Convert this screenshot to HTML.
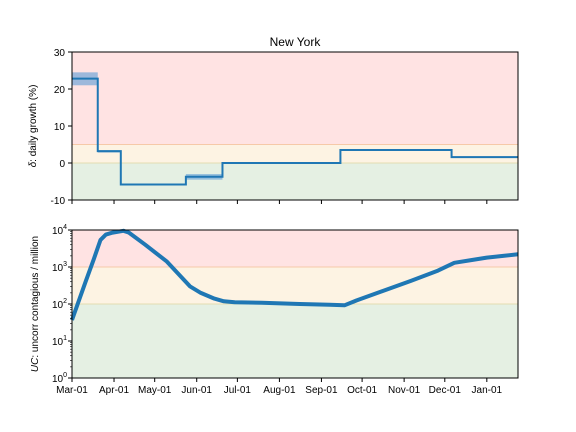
<!DOCTYPE html>
<html><head><meta charset="utf-8"><style>
body{margin:0;background:#fff}
svg{display:block;font-family:"Liberation Sans",sans-serif}
</style></head><body>
<svg id="chart" width="576" height="432" viewBox="0 0 576 432">
<text x="295" y="46" font-size="12" text-anchor="middle">New York</text>
<g id="topPanel"></g>
<g id="botPanel"></g>
<text transform="translate(36,126) rotate(-90)" font-size="10" text-anchor="middle"><tspan font-style="italic">δ</tspan>: daily growth (%)</text>
<text transform="translate(38,304) rotate(-90)" font-size="10" text-anchor="middle"><tspan font-style="italic">UC</tspan>: uncorr contagious / million</text>
</svg>
<script>
// data (x in days since Mar-01)
const stepStarts=[0,19,36,84,111,198,280];
const stepEnds=[19,36,84,111,198,280,329];
const stepVals=[22.8,3.2,-5.8,-3.7,0,3.5,1.6];
const stepLo=[21,2.8,-5.8,-4.5,-0.2,3.3,1.4];
const stepHi=[24.5,3.4,-5.8,-3,0.2,3.7,1.8];
const ucDays=[0,10,16,21,25,30,38,42,54,70,87,95,105,112,120,140,168,190,201,210,230,250,270,282,295,306,318,329];
const ucVals=[37,400,1600,5400,7500,8500,9500,8500,4000,1400,300,200,140,118,112,108,100,95,92,125,230,420,800,1300,1550,1800,2000,2200];
const monthLabels=["Mar-01","Apr-01","May-01","Jun-01","Jul-01","Aug-01","Sep-01","Oct-01","Nov-01","Dec-01","Jan-01"];
const monthDays=[0,31,61,92,122,153,184,214,245,275,306];
const topTicks=[-10,0,10,20,30];

const NS="http://www.w3.org/2000/svg";
const L=72,R=518,T1=52,B1=200,T2=230,B2=378;
const xs=d=>L+(R-L)*d/329;
const y1=v=>B1-(v+10)/40*(B1-T1);
const y2=v=>B2-Math.log10(v)/4*(B2-T2);
function mk(p,tag,at){const e=document.createElementNS(NS,tag);for(const k in at)e.setAttribute(k,at[k]);p.appendChild(e);return e;}
const gTop=document.getElementById('topPanel'),gBot=document.getElementById('botPanel');

let e;
e=mk(gTop,'rect',{x:L,y:y1(30),width:R-L,height:y1(5)-y1(30),fill:'#ffe3e3'});


e=mk(gTop,'rect',{x:L,y:y1(5),width:R-L,height:y1(0)-y1(5),fill:'#fdf3e3'});


e=mk(gTop,'rect',{x:L,y:y1(0),width:R-L,height:y1(-10)-y1(0),fill:'#e5f0e3'});


mk(gTop,'line',{x1:L,x2:R,y1:y1(5),y2:y1(5),stroke:'#f6c9a8','stroke-width':1});
mk(gTop,'line',{x1:L,x2:R,y1:y1(0),y2:y1(0),stroke:'#e2dcb0','stroke-width':1});
for(let i=0;i<stepVals.length;i++){
  e=mk(gTop,'rect',{x:xs(stepStarts[i]),y:y1(stepHi[i]),width:xs(stepEnds[i])-xs(stepStarts[i]),height:Math.max(0,y1(stepLo[i])-y1(stepHi[i])),fill:'#5b9bd5',opacity:0.6});
  
  
}
let d='';
for(let i=0;i<stepVals.length;i++){d+=(i?'L':'M')+xs(stepStarts[i])+','+y1(stepVals[i])+'L'+xs(stepEnds[i])+','+y1(stepVals[i]);}
e=mk(gTop,'path',{d:d,fill:'none',stroke:'#1f77b4','stroke-width':2});


mk(gTop,'rect',{x:L,y:T1,width:R-L,height:B1-T1,fill:'none',stroke:'#000','stroke-width':1});
topTicks.forEach(v=>{mk(gTop,'line',{x1:L-4,x2:L,y1:y1(v),y2:y1(v),stroke:'#000'});
  const t=mk(gTop,'text',{x:L-7,y:y1(v)+4,'font-size':10,'text-anchor':'end'});t.textContent=v;
  
  });
monthDays.forEach(m=>mk(gTop,'line',{x1:xs(m),x2:xs(m),y1:B1,y2:B1+4,stroke:'#000'}));

e=mk(gBot,'rect',{x:L,y:y2(1e4),width:R-L,height:y2(1e3)-y2(1e4),fill:'#ffe3e3'});


e=mk(gBot,'rect',{x:L,y:y2(1e3),width:R-L,height:y2(100)-y2(1e3),fill:'#fdf3e3'});


e=mk(gBot,'rect',{x:L,y:y2(100),width:R-L,height:y2(1)-y2(100),fill:'#e5f0e3'});


mk(gBot,'line',{x1:L,x2:R,y1:y2(1000),y2:y2(1000),stroke:'#f6c9a8'});
mk(gBot,'line',{x1:L,x2:R,y1:y2(100),y2:y2(100),stroke:'#e2dcb0'});
let pts=ucDays.map((dd,i)=>xs(dd).toFixed(1)+','+y2(ucVals[i]).toFixed(1)).join(' ');
e=mk(gBot,'polyline',{points:pts,fill:'none',stroke:'#1f77b4','stroke-width':4,'stroke-linejoin':'round'});


mk(gBot,'rect',{x:L,y:T2,width:R-L,height:B2-T2,fill:'none',stroke:'#000'});
for(let p=0;p<=4;p++){mk(gBot,'line',{x1:L-4,x2:L,y1:y2(10**p),y2:y2(10**p),stroke:'#000'});
  const t=mk(gBot,'text',{x:L-5,y:y2(10**p)+4,'font-size':10,'text-anchor':'end'});
  t.innerHTML='10<tspan font-size="7" dy="-5">'+p+'</tspan>';
  
  
  if(p<4)for(let k=2;k<10;k++)mk(gBot,'line',{x1:L-2,x2:L,y1:y2(k*10**p),y2:y2(k*10**p),stroke:'#000','stroke-width':0.6});}
monthDays.forEach((m,i)=>{mk(gBot,'line',{x1:xs(m),x2:xs(m),y1:B2,y2:B2+4,stroke:'#000'});
  const t=mk(gBot,'text',{x:xs(m),y:B2+15,'font-size':10,'text-anchor':'middle'});t.textContent=monthLabels[i];
  
  });
</script>
</body></html>
